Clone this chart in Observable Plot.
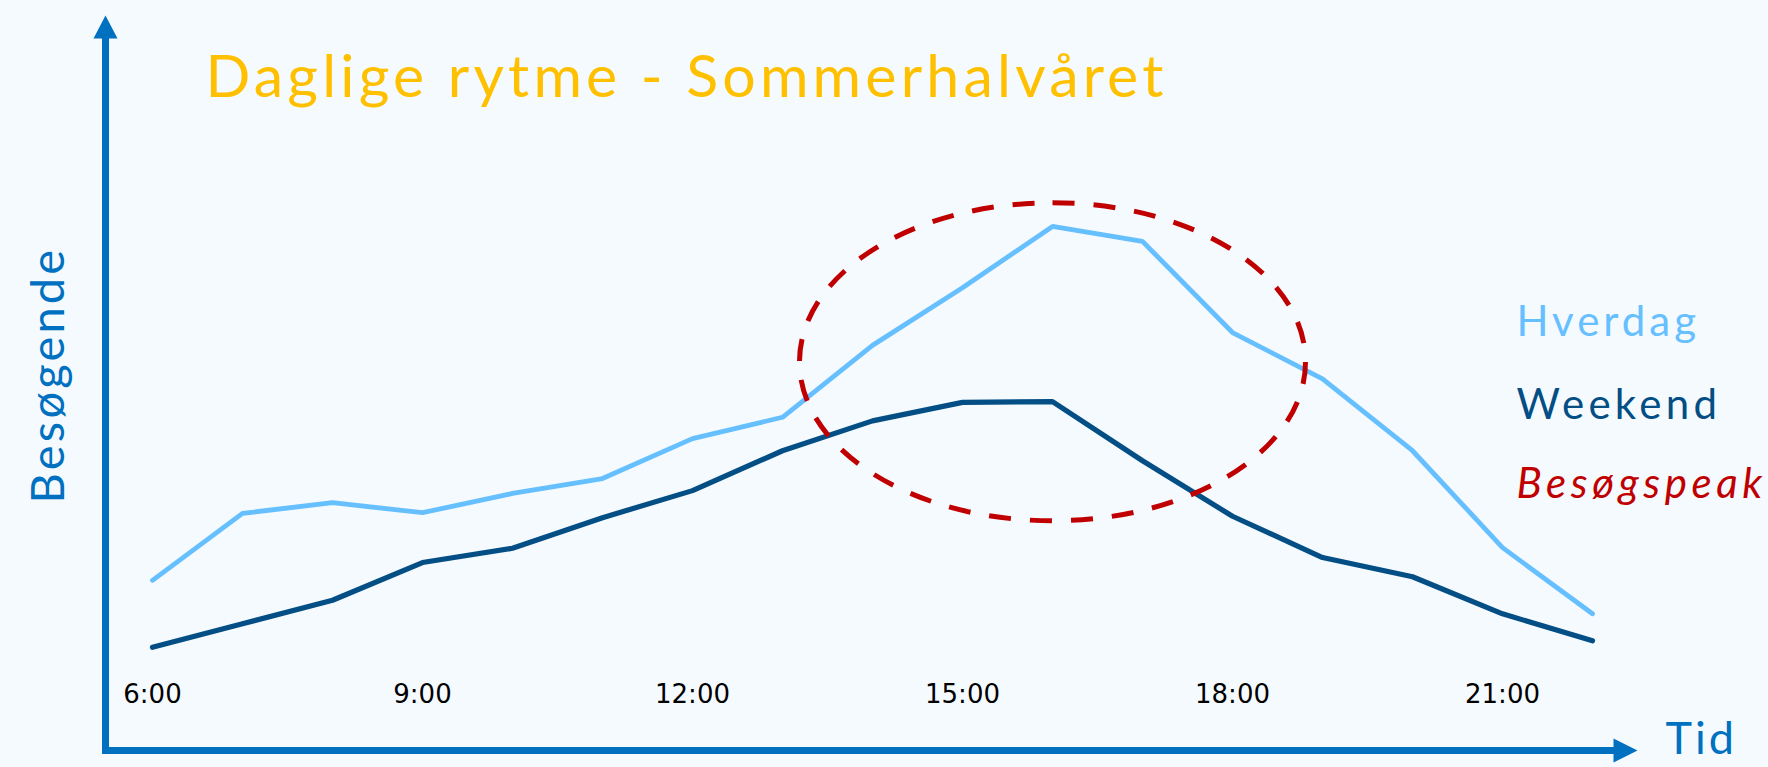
<!DOCTYPE html>
<html>
<head>
<meta charset="utf-8">
<script src="https://cdn.jsdelivr.net/npm/d3@7"></script>
<script src="https://cdn.jsdelivr.net/npm/@observablehq/plot@0.6"></script>
<style>
  html, body { margin: 0; padding: 0; background: #F5FAFE; }
  #chart svg { display: block; }
</style>
</head>
<body>
<div id="chart"></div>
<script>
// ---- Data ----
const hours = [6, 7, 8, 9, 10, 11, 12, 13, 14, 15, 16, 17, 18, 19, 20, 21, 22];
const hverdag = [23.9, 33.3, 34.8, 33.4, 36.1, 38.2, 43.8, 46.8, 56.9, 65.0, 73.6, 71.5, 58.7, 52.2, 42.1, 28.5, 19.2];
const weekend = [14.5, 17.8, 21.1, 26.4, 28.4, 32.7, 36.5, 42.1, 46.3, 48.9, 49.0, 40.7, 32.9, 27.1, 24.4, 19.2, 15.4];
const seriesNames = ["Hverdag", "Weekend"];
const tickHours = [6, 9, 12, 15, 18, 21];
const tickLabels = ["6:00", "9:00", "12:00", "15:00", "18:00", "21:00"];
const peakLabel = "Besøgspeak";
const peakHour = [16];
const peakLevel = [54.6];
const titleText = "Daglige rytme - Sommerhalvåret";
const yLabel = "Besøgende";
const xLabel = "Tid";

// ---- Build table ----
const rows = hours.flatMap((h, i) => [
  {hour: h, value: hverdag[i], series: seriesNames[0]},
  {hour: h, value: weekend[i], series: seriesNames[1]}
]);
const peaks = peakHour.map((h, i) => ({hour: h, level: peakLevel[i]}));

// ---- Colours ----
const cAxis = "#0070C0", cLight = "#66BFFF", cDark = "#034E84", cRed = "#C00000", cTitle = "#FFC000";

// ---- Custom symbols ----
const arrowUp = {draw(ctx) { ctx.moveTo(-12, 0); ctx.lineTo(0, -23); ctx.lineTo(12, 0); ctx.closePath(); }};
const arrowRight = {draw(ctx) { ctx.moveTo(0, -12); ctx.lineTo(24, 0); ctx.lineTo(0, 12); ctx.closePath(); }};
const ellipse = {draw(ctx) {
  const rx = 253, ry = 159, k = 0.5523, kx = rx * k, ky = ry * k;
  ctx.moveTo(0, -ry);
  ctx.bezierCurveTo(kx, -ry, rx, -ky, rx, 0);
  ctx.bezierCurveTo(rx, ky, kx, ry, 0, ry);
  ctx.bezierCurveTo(-kx, ry, -rx, ky, -rx, 0);
  ctx.bezierCurveTo(-rx, -ky, -kx, -ry, 0, -ry);
  ctx.closePath();
}};

const F = "Lato";
const txt = (o) => ({text: d => d, lineAnchor: "middle", fontFamily: F, ...o});

const chart = Plot.plot({
  width: 1768,
  height: 767,
  marginLeft: 105,
  marginRight: 155,
  marginTop: 38,
  marginBottom: 17,
  style: {background: "#F5FAFE", fontFamily: F, color: "#000"},
  x: {domain: [6, 22], range: [152, 1592]},
  y: {domain: [0, 100], axis: null},
  marks: [
    Plot.axisX({ticks: tickHours, tickFormat: d => tickLabels[tickHours.indexOf(d)], tickSize: 0, tickPadding: -65.5,
      fontSize: 26, fontFamily: "DejaVu Sans", fill: "#000", label: null}),
    Plot.line(rows.filter(d => d.series === seriesNames[0]), {x: "hour", y: "value", stroke: cLight, strokeWidth: 4.8, strokeLinejoin: "miter", strokeLinecap: "round"}),
    Plot.line(rows.filter(d => d.series === seriesNames[1]), {x: "hour", y: "value", stroke: cDark, strokeWidth: 5.2, strokeLinejoin: "miter", strokeLinecap: "round"}),
    Plot.dot(peaks, {x: "hour", y: "level", symbol: ellipse, fill: "none", stroke: cRed, strokeWidth: 5, strokeDasharray: "22,19"}),
    Plot.frame({anchor: "left", stroke: cAxis, strokeWidth: 7, strokeLinecap: "square"}),
    Plot.frame({anchor: "bottom", stroke: cAxis, strokeWidth: 7, strokeLinecap: "square"}),
    Plot.dot([0], {frameAnchor: "top-left", symbol: arrowUp, fill: cAxis, stroke: "none"}),
    Plot.dot([0], {frameAnchor: "bottom-right", symbol: arrowRight, fill: cAxis, stroke: "none"}),
    Plot.text([titleText], txt({frameAnchor: "top-left", textAnchor: "start", dx: 100, dy: 40.1, fontSize: 59, fill: cTitle})),
    Plot.text([yLabel], txt({frameAnchor: "left", textAnchor: "middle", rotate: -90, dx: -57, dy: -19.5, fontSize: 47, fill: cAxis})),
    Plot.text([xLabel], txt({frameAnchor: "bottom-right", textAnchor: "start", dx: 52, dy: -11, fontSize: 45, fill: cAxis})),
    Plot.text([seriesNames[0]], txt({frameAnchor: "top-left", textAnchor: "start", dx: 1411, dy: 283.6, fontSize: 42, fill: cLight})),
    Plot.text([seriesNames[1]], txt({frameAnchor: "top-left", textAnchor: "start", dx: 1411, dy: 366.6, fontSize: 42, fill: cDark})),
    Plot.text([peakLabel], txt({frameAnchor: "top-left", textAnchor: "start", dx: 1411, dy: 445.6, fontSize: 42, fill: cRed, fontStyle: "italic"}))
  ]
});

// letter spacing to match the wide display typeface of the original
const spacing = new Map([[titleText, 4.2], [yLabel, 3.2], [xLabel, 3], [seriesNames[0], 4], [seriesNames[1], 4.3], [peakLabel, 4.6]]);
d3.select(chart).selectAll("text").each(function() {
  const s = spacing.get(this.textContent);
  if (s !== undefined) this.setAttribute("letter-spacing", s);
});
document.getElementById("chart").appendChild(chart);
</script>
</body>
</html>
